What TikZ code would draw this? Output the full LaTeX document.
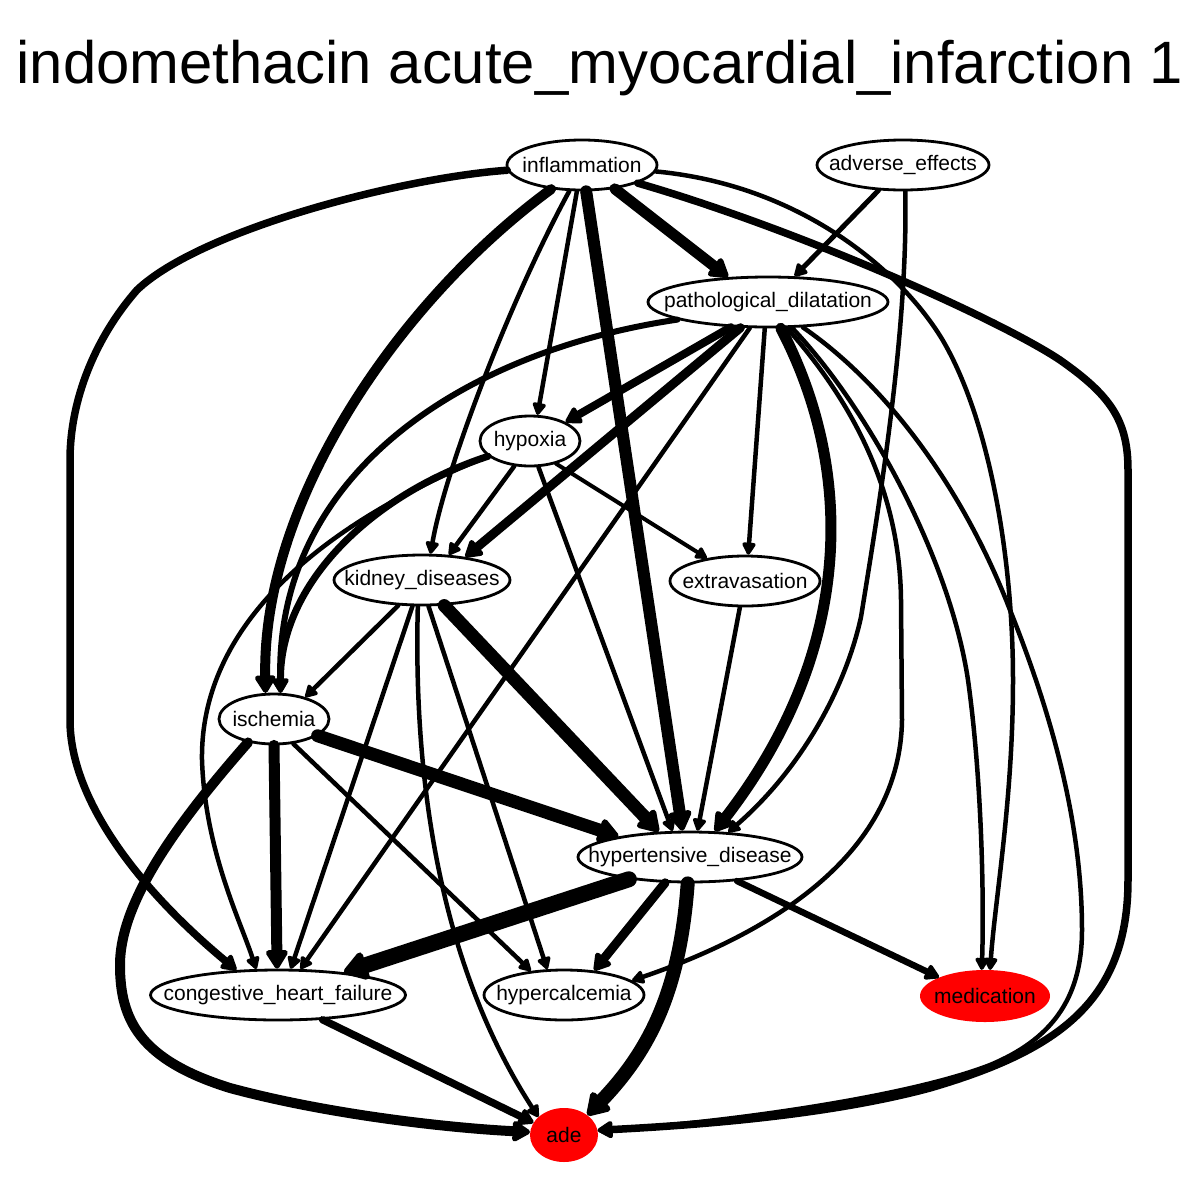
\documentclass[tikz,border=0pt]{standalone}
\usepackage{fontspec}
\setmainfont{Liberation Sans}
\usetikzlibrary{arrows.meta,shapes.geometric}
\newcommand{\zt}[1]{\makebox[0pt]{#1}}
\begin{document}
\begin{tikzpicture}[x=1pt,y=-1pt,
  nd/.style={ellipse, draw, fill=white, line width=2.8pt, inner sep=0pt, font=\fontsize{21}{25}\selectfont},
  rednd/.style={ellipse, fill=red, inner sep=0pt, font=\fontsize{21}{25}\selectfont},
  ar/.style={line width=#1pt, line cap=round, line join=round, -{Triangle[length=9pt 1.1, width=8pt 1.5, round]}}
]
\fill[white] (0,0) rectangle (1200,1200);
\useasboundingbox (0,0) rectangle (1200,1200);
\node[anchor=base, font=\fontsize{59.8}{62}\selectfont] (title) at (600,83) {indomethacin acute\_myocardial\_infarction 1};

\node[nd, minimum width=150pt, minimum height=50pt] (I) at (582,165) {\zt{inflammation}};
\node[nd, minimum width=172pt, minimum height=50pt] (AE) at (903,165) {\zt{adverse\_effects}};
\node[nd, minimum width=240pt, minimum height=50pt] (P) at (768,302) {\zt{pathological\_dilatation}};
\node[nd, minimum width=100pt, minimum height=50pt] (H) at (530,441) {\zt{hypoxia}};
\node[nd, minimum width=176pt, minimum height=50pt] (K) at (422,580) {\zt{kidney\_diseases}};
\node[nd, minimum width=150pt, minimum height=50pt] (X) at (745,581) {\zt{extravasation}};
\node[nd, minimum width=110pt, minimum height=50pt] (Isch) at (274,719) {\zt{ischemia}};
\node[nd, minimum width=224pt, minimum height=50pt] (HD) at (690,857) {\zt{hypertensive\_disease}};
\node[nd, minimum width=255pt, minimum height=50pt] (CHF) at (278,995) {\zt{congestive\_heart\_failure}};
\node[nd, minimum width=160pt, minimum height=50pt] (HC) at (564,995) {\zt{hypercalcemia}};
\node[rednd, minimum width=130pt, minimum height=52pt] (M) at (985,996) {\zt{medication}};
\node[rednd, minimum width=68pt, minimum height=54pt] (ade) at (564,1135) {\zt{ade}};

% inflammation
\draw[ar=7.5] (I.184) .. controls (400,178) and (200,230) .. (137,290) .. controls (95,338) and (70,400) .. (70,460) -- (70,720) .. controls (70,800) and (140,890) .. (CHF.149);
\draw[ar=10] (I.218) .. controls (400,300) and (262,500) .. (Isch.108);
\draw[ar=4.5] (I.244) .. controls (510,300) and (445,470) .. (K.72);
\draw[ar=4.5] (I.259) -- (H.74);
\draw[ar=12] (I.279) -- (HD.106);
\draw[ar=11] (I.324) -- (P.148);
\draw[ar=4.5] (I.355) .. controls (800,185) and (900,270) .. (942,339) .. controls (990,420) and (1013,560) .. (1013,680) .. controls (1013,800) and (995,900) .. (M.79);
\draw[ar=7.5] (I.342) .. controls (800,230) and (1000,320) .. (1060,360) .. controls (1110,395) and (1128,420) .. (1128,470) -- (1128,880) .. controls (1128,1000) and (1060,1050) .. (930,1088) .. controls (830,1115) and (700,1125) .. (ade.8);

% adverse effects
\draw[ar=5] (AE.226) -- (P.44);
\draw[ar=4.5] (AE.275) .. controls (908,330) and (880,500) .. (861,617) .. controls (845,690) and (800,770) .. (HD.33);

% pathological dilatation
\draw[ar=6] (P.191) .. controls (470,350) and (275,470) .. (Isch.76);
\draw[ar=8] (P.214) -- (H.28);
\draw[ar=9] (P.223) -- (K.28);
\draw[ar=4.5] (P.235) -- (CHF.49);
\draw[ar=4.5] (P.263) -- (X.83);
\draw[ar=11] (P.296) .. controls (855,470) and (855,650) .. (HD.46);
\draw[ar=4.5] (P.306) .. controls (860,410) and (900,500) .. (901,600) -- (902,720) .. controls (900,850) and (780,930) .. (HC.12);
\draw[ar=4.5] (P.313) .. controls (870,410) and (950,560) .. (968,680) .. controls (982,780) and (984,900) .. (M.97);
\draw[ar=4.5] (P.324) .. controls (880,380) and (960,480) .. (1010,610) .. controls (1050,710) and (1082,820) .. (1082,930) .. controls (1082,1000) and (1050,1040) .. (990,1065) .. controls (900,1100) and (700,1125) .. (ade.8);

% hypoxia
\draw[ar=7] (H.200) .. controls (370,495) and (280,585) .. (Isch.76);
\draw[ar=4.5] (H.200) .. controls (330,520) and (200,620) .. (202,760) .. controls (205,850) and (240,920) .. (CHF.130);
\draw[ar=4.5] (H.238) -- (K.43);
\draw[ar=4] (H.319) -- (X.149);
\draw[ar=4.5] (H.288) -- (HD.124);

% kidney diseases
\draw[ar=4.5] (K.227) -- (Isch.35);
\draw[ar=4.5] (K.250) -- (CHF.64);
\draw[ar=4.5] (K.261) .. controls (414,750) and (430,950) .. (ade.145);
\draw[ar=4.5] (K.284) -- (HC.123);
\draw[ar=13] (K.311) -- (HD.141);

% extravasation
\draw[ar=4.5] (X.259) -- (HD.74);

% ischemia
\draw[ar=10] (Isch.222) .. controls (180,820) and (120,900) .. (120,965) .. controls (120,1020) and (140,1060) .. (230,1088) .. controls (330,1115) and (450,1128) .. (ade.175);
\draw[ar=11] (Isch.270) -- (CHF.92);
\draw[ar=4.5] (Isch.308) -- (HC.144);
\draw[ar=13] (Isch.339) -- (HD.164);

% hypertensive disease
\draw[ar=16] (HD.200) -- (CHF.19);
\draw[ar=9] (HD.226) -- (HC.39);
\draw[ar=14] (HD.265) .. controls (680,990) and (650,1050) .. (ade.40);
\draw[ar=6.5] (HD.333) -- (M.158);

% congestive heart failure
\draw[ar=7.5] (CHF.331) -- (ade.158);
\end{tikzpicture}
\end{document}
